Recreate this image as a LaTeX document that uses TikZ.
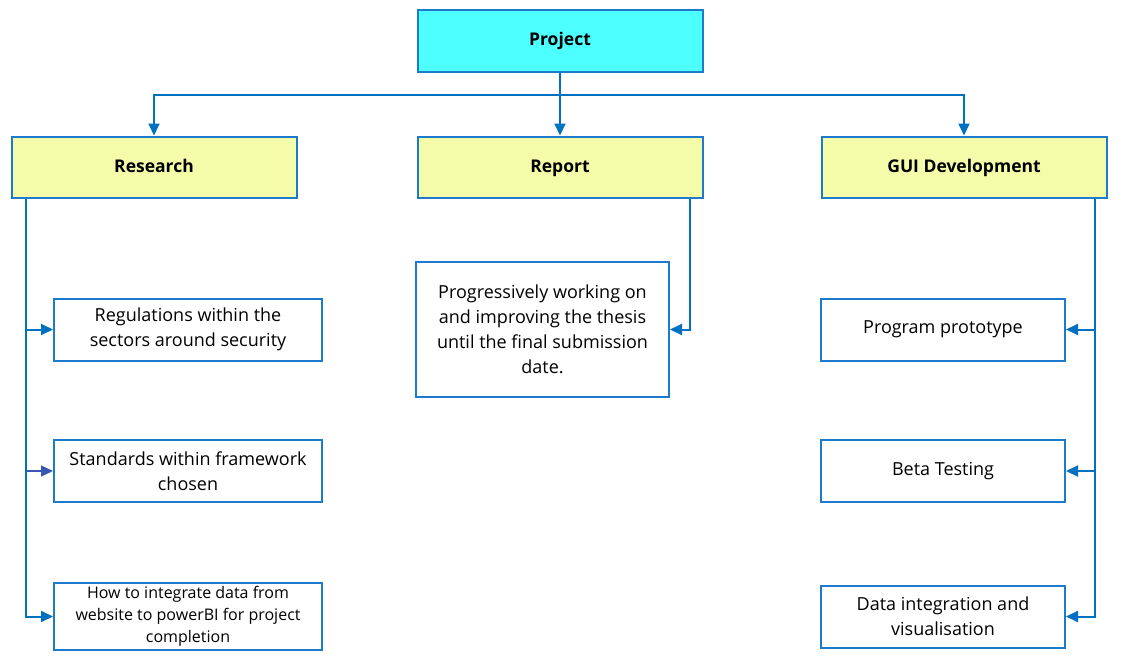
\documentclass[tikz,border=0pt]{standalone}
\usepackage{fontspec}
\setmainfont{Open Sans}
\usepackage{tikz}
\usetikzlibrary{arrows.meta}
\definecolor{borde}{RGB}{30,122,204}
\definecolor{flecha}{RGB}{0,112,192}
\definecolor{cian}{RGB}{77,255,255}
\definecolor{amarillo}{RGB}{244,252,170}
\tikzstyle{raiz} = [draw=borde, fill=cian, line width=2pt, rectangle, minimum width=285pt, minimum height=62pt, text height=12pt, text depth=2pt, font=\fontsize{17.5}{20}\selectfont\bfseries]
\tikzstyle{rama} = [draw=borde, fill=amarillo, line width=2pt, rectangle, minimum width=285pt, minimum height=61pt, text height=12pt, text depth=2pt, font=\fontsize{17.5}{20}\selectfont\bfseries]
\tikzstyle{tarea} = [draw=borde, fill=white, line width=2pt, rectangle, minimum height=62pt, align=center, font=\fontsize{18}{25}\selectfont]
\tikzstyle{flecha} = [draw=flecha, line width=2pt, -{Triangle[length=12pt,width=11pt]}]

\begin{document}
\begin{tikzpicture}[x=1pt,y=-1pt]
		\useasboundingbox[fill=white] (0,0) rectangle (1125,664);
		% nivel superior
		\node[raiz](project) at (560,40.5) {Project};
		\node[rama](research) at (154,167) {Research};
		\node[rama](report) at (560,167) {Report};
		\node[rama](gui) at (964,167) {GUI Development};
		% tareas de cada rama
		\node[tarea, minimum width=268pt](reg) at (188,329.5) {Regulations within the\\sectors around security};
		\node[tarea, minimum width=268pt](std) at (188,471) {Standards within framework\\chosen};
		\node[tarea, minimum width=268pt, font=\fontsize{16}{22}\selectfont](integ) at (188,616.5) {How to integrate data from\\website to powerBI for project\\completion};
		\node[tarea, minimum width=253pt, minimum height=135pt](progress) at (542.5,329.5) {Progressively working on\\and improving the thesis\\until the final submission\\date.};
		\node[tarea, minimum width=244pt](proto) at (943,329.5) {Program prototype};
		\node[tarea, minimum width=244pt](beta) at (943,471) {Beta Testing};
		\node[tarea, minimum width=244pt](dataviz) at (943,616.5) {Data integration and\\visualisation};
		% conexiones
		\draw[flecha] (project.south) -- ++(0,22) -| (research.north);
		\draw[flecha] (project.south) -- ++(0,22) -| (gui.north);
		\draw[flecha] (project.south) -- (report.north);
		\draw[flecha] ([xshift=15pt]research.south west) |- (reg.west);
		\draw[flecha, draw=borde!70!violet, line width=1.3pt] ([xshift=15pt]research.south west) |- (std.west);
		\draw[flecha] ([xshift=15pt]research.south west) |- (integ.west);
		\draw[flecha] ([xshift=-14pt]report.south east) |- (progress.east);
		\draw[flecha] ([xshift=-13pt]gui.south east) |- (proto.east);
		\draw[flecha] ([xshift=-13pt]gui.south east) |- (beta.east);
		\draw[flecha] ([xshift=-13pt]gui.south east) |- (dataviz.east);
	\end{tikzpicture}
\end{document}
